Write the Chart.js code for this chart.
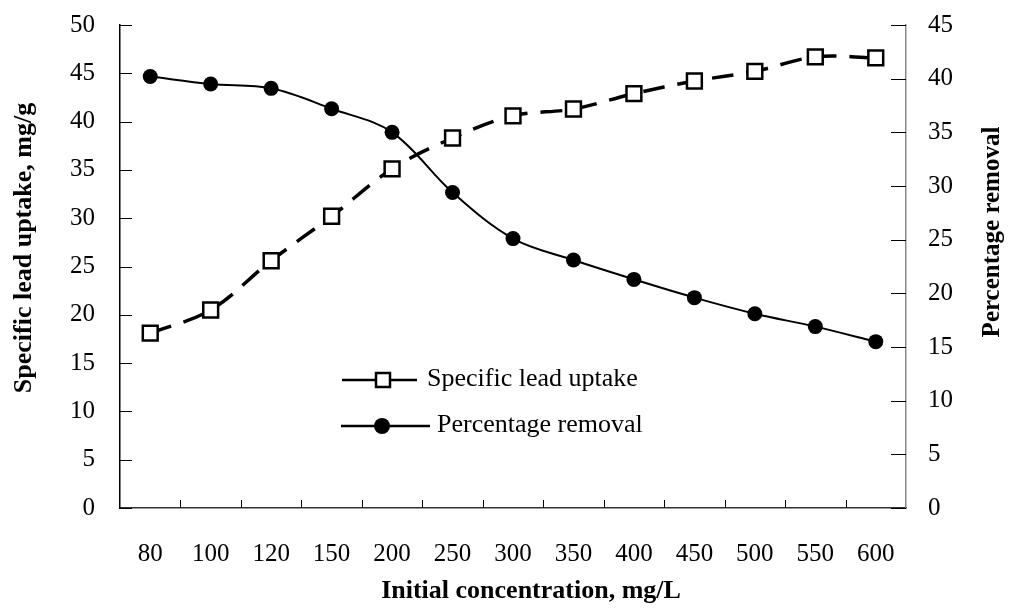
<!DOCTYPE html>
<html>
<head>
<meta charset="utf-8">
<script src="https://cdn.jsdelivr.net/npm/chart.js@4"></script>
<style>
    html, body { margin: 0; padding: 0; background: #fff; }
    #wrap { width: 1010px; height: 610px; }
</style>
</head>
<body>
<div id="wrap"><canvas id="uptakeChart" width="1010" height="610"></canvas></div>
<script>
(function () {
    'use strict';

    // data
    var concentrations = ['80', '100', '120', '150', '200', '250', '300', '350', '400', '450', '500', '550', '600'];
    var leadUptake = [18.1, 20.5, 25.6, 30.2, 35.1, 38.3, 40.6, 41.3, 42.9, 44.2, 45.2, 46.7, 46.6];
    var percentRemoval = [40.2, 39.5, 39.1, 37.2, 35.0, 29.4, 25.1, 23.1, 21.3, 19.6, 18.1, 16.9, 15.5];

    // axis ranges: [min, max, step]
    var leftAxisRange = [0, 50, 5];
    var rightAxisRange = [0, 45, 5];

    var serif = "'Liberation Serif', 'Times New Roman', serif";

    // tick marks pointing into the plot, like the original figure
    var innerTicks = {
        id: 'innerTicks',
        beforeDatasetsDraw: function (chart) {
            var ctx = chart.ctx;
            var area = chart.chartArea;
            var sl = chart.scales.y, sr = chart.scales.y1;
            ctx.save();
            ctx.lineWidth = 1;
            ctx.strokeStyle = '#000';
            ctx.beginPath();
            sl.ticks.forEach(function (t) {
                var y = Math.round(sl.getPixelForValue(t.value)) + 0.5;
                ctx.moveTo(area.left, y);
                ctx.lineTo(area.left + 12, y);
            });
            sr.ticks.forEach(function (t) {
                var y = Math.round(sr.getPixelForValue(t.value)) + 0.5;
                ctx.moveTo(area.right, y);
                ctx.lineTo(area.right - 15, y);
            });
            var step = (area.right - area.left) / concentrations.length;
            for (var i = 1; i < concentrations.length; i++) {
                var x = Math.round(area.left + i * step) + 0.5;
                ctx.moveTo(x, area.bottom);
                ctx.lineTo(x, area.bottom - 8);
            }
            ctx.stroke();
            ctx.restore();
        }
    };

    var axisTitles = {
        id: 'axisTitles',
        afterDraw: function (chart) {
            var ctx = chart.ctx;
            ctx.save();
            ctx.fillStyle = '#000';
            ctx.textAlign = 'center';
            ctx.textBaseline = 'middle';

            ctx.font = 'bold 26px ' + serif;
            ctx.fillText('Initial concentration, mg/L', 531, 591);

            ctx.save();
            ctx.translate(24, 248);
            ctx.rotate(-Math.PI / 2);
            ctx.fillText('Specific lead uptake, mg/g', 0, 0);
            ctx.restore();

            ctx.font = 'bold 25px ' + serif;
            ctx.save();
            ctx.translate(993, 232);
            ctx.rotate(-Math.PI / 2);
            ctx.fillText('Percentage removal', 0, 0);
            ctx.restore();

            ctx.restore();
        }
    };

    // legend sits inside the plot area
    var insideLegend = {
        id: 'insideLegend',
        afterDraw: function (chart) {
            var ctx = chart.ctx;
            ctx.save();
            ctx.strokeStyle = '#000';
            ctx.fillStyle = '#000';
            ctx.lineWidth = 2.5;

            // Specific lead uptake
            ctx.beginPath();
            ctx.moveTo(342, 380);
            ctx.lineTo(417, 380);
            ctx.stroke();
            ctx.fillStyle = '#fff';
            ctx.fillRect(376, 373, 14, 14);
            ctx.strokeRect(376, 373, 14, 14);

            // Percentage removal
            ctx.fillStyle = '#000';
            ctx.beginPath();
            ctx.moveTo(341, 426);
            ctx.lineTo(430, 426);
            ctx.stroke();
            ctx.beginPath();
            ctx.arc(382, 426, 8, 0, Math.PI * 2);
            ctx.fill();

            ctx.font = '26px ' + serif;
            ctx.textAlign = 'left';
            ctx.textBaseline = 'middle';
            ctx.fillText('Specific lead uptake', 427, 379);
            ctx.fillText('Percentage removal', 437, 425);
            ctx.restore();
        }
    };

    function fixWidth(w) {
        return function (scale) {
            scale.width = w;
            scale.paddingTop = 0;
            scale.paddingBottom = 0;
        };
    }

    var ctx = document.getElementById('uptakeChart').getContext('2d');

    new Chart(ctx, {
        type: 'line',
        data: {
            labels: concentrations,
            datasets: [
                {
                    label: 'Percentage removal',
                    data: percentRemoval,
                    yAxisID: 'y1',
                    borderColor: '#000',
                    backgroundColor: '#000',
                    borderWidth: 2,
                    tension: 0.35,
                    pointStyle: 'circle',
                    pointRadius: 7.5,
                    pointBorderWidth: 0,
                    pointBackgroundColor: '#000'
                },
                {
                    label: 'Specific lead uptake',
                    data: leadUptake,
                    yAxisID: 'y',
                    borderColor: '#000',
                    backgroundColor: '#fff',
                    borderWidth: 3.5,
                    borderDash: [22, 13],
                    tension: 0.35,
                    pointStyle: 'rect',
                    pointRadius: 10.5,
                    pointBorderWidth: 2.5,
                    pointBorderColor: '#000',
                    pointBackgroundColor: '#fff'
                }
            ]
        },
        options: {
            responsive: false,
            animation: false,
            devicePixelRatio: 1,
            layout: { padding: { top: 25, left: 0, right: 0, bottom: 0 } },
            plugins: {
                legend: { display: false },
                tooltip: { enabled: false }
            },
            scales: {
                x: {
                    type: 'category',
                    offset: true,
                    grid: { display: false, drawTicks: false },
                    border: { display: true, color: '#333', width: 1.5 },
                    ticks: {
                        color: '#000',
                        padding: 31,
                        maxRotation: 0,
                        autoSkip: false,
                        font: { family: serif, size: 25 }
                    },
                    afterFit: function (scale) {
                        scale.height = 102;
                        scale.paddingLeft = 0;
                        scale.paddingRight = 0;
                    }
                },
                y: {
                    position: 'left',
                    min: leftAxisRange[0],
                    max: leftAxisRange[1],
                    grid: { display: false, drawTicks: false },
                    border: { display: true, color: '#000', width: 1.5 },
                    ticks: {
                        stepSize: leftAxisRange[2],
                        color: '#000',
                        padding: 25,
                        font: { family: serif, size: 25 }
                    },
                    afterFit: fixWidth(120)
                },
                y1: {
                    position: 'right',
                    min: rightAxisRange[0],
                    max: rightAxisRange[1],
                    grid: { display: false, drawTicks: false },
                    border: { display: true, color: '#888', width: 1.5 },
                    ticks: {
                        stepSize: rightAxisRange[2],
                        color: '#000',
                        padding: 22,
                        font: { family: serif, size: 25 }
                    },
                    afterFit: fixWidth(104)
                }
            }
        },
        plugins: [innerTicks, axisTitles, insideLegend]
    });
})();
</script>
</body>
</html>
